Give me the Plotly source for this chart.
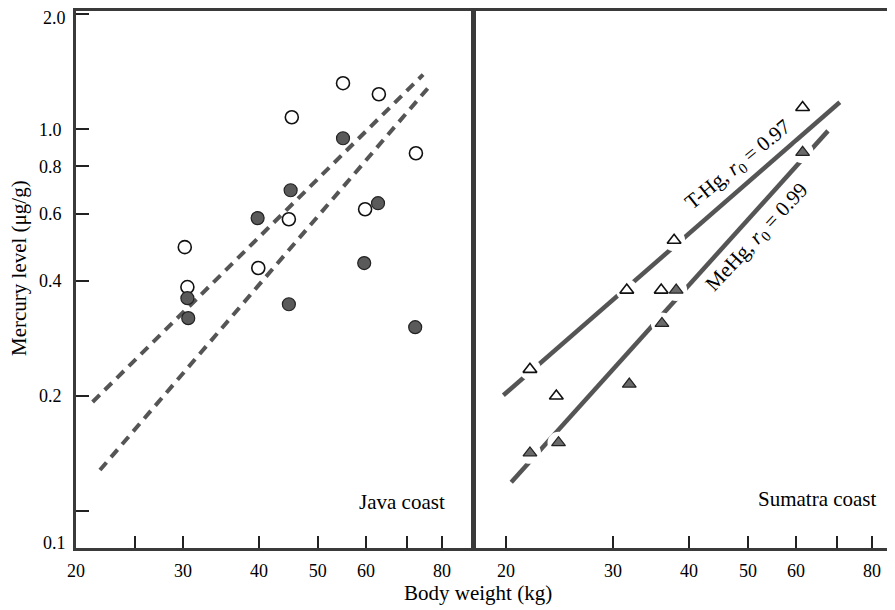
import math
import plotly.graph_objects as go

# ---------------- data ----------------
java_thg_x = [55.0, 63.0, 45.3, 72.5, 59.8, 44.8, 30.2, 39.9, 30.5]
java_thg_y = [1.32, 1.235, 1.075, 0.865, 0.617, 0.581, 0.491, 0.433, 0.386]
java_mehg_x = [55.0, 45.1, 39.8, 62.8, 59.6, 30.5, 30.6, 44.8, 72.3]
java_mehg_y = [0.947, 0.692, 0.585, 0.640, 0.446, 0.361, 0.320, 0.348, 0.303]
java_thg_fit_x = [21.3, 74.5]
java_thg_fit_y = [0.193, 1.39]
java_mehg_fit_x = [21.9, 77.1]
java_mehg_fit_y = [0.128, 1.32]

sum_thg_x = [61.5, 37.8, 31.6, 36.0, 21.9, 24.2]
sum_thg_y = [1.14, 0.512, 0.379, 0.379, 0.235, 0.200]
sum_mehg_x = [61.5, 38.1, 36.1, 31.9, 24.4, 21.9]
sum_mehg_y = [0.87, 0.379, 0.31, 0.215, 0.151, 0.142]
sum_thg_fit_x = [19.8, 70.8]
sum_thg_fit_y = [0.201, 1.177]
sum_mehg_fit_x = [20.4, 67.7]
sum_mehg_fit_y = [0.119, 0.99]

y_tickvals = [0.1, 0.2, 0.4, 0.6, 0.8, 1.0, 2.0]
y_ticktext = ["", "0.2", "0.4", "0.6", "0.8", "1.0", ""]
y_edge_labels = ["0.1", "2.0"]  # drawn at the frame's bottom and top edges
x1_tickvals = [20, 25, 30, 40, 50, 60, 70, 80]
x1_ticktext = ["20", "", "30", "40", "50", "60", "", "80"]
x2_tickvals = [20, 30, 40, 50, 60, 70, 80]
x2_ticktext = ["20", "30", "40", "50", "60", "", "80"]

FONT = "Liberation Serif"
# the page body adds an 8px margin, so the figure is drawn 8px smaller
OFF = 8
W, H = 895 - OFF, 610 - OFF
LINE_C = "#3a3a3a"
FIT_C = "#555555"


def px(xp):
    return (xp - OFF) / W


def py(yp):
    return 1 - (yp - OFF) / H


fig = go.Figure()

# ---- Java coast (left) ----
fig.add_trace(go.Scatter(x=java_thg_fit_x, y=java_thg_fit_y, mode="lines",
                         line=dict(color=FIT_C, width=4, dash="10px,7px"),
                         xaxis="x", yaxis="y", hoverinfo="skip"))
fig.add_trace(go.Scatter(x=java_mehg_fit_x, y=java_mehg_fit_y, mode="lines",
                         line=dict(color=FIT_C, width=4, dash="10px,7px"),
                         xaxis="x", yaxis="y", hoverinfo="skip"))
fig.add_trace(go.Scatter(x=java_thg_x, y=java_thg_y, mode="markers",
                         marker=dict(symbol="circle", size=13, color="white",
                                     line=dict(color="#111", width=1.6)),
                         xaxis="x", yaxis="y"))
fig.add_trace(go.Scatter(x=java_mehg_x, y=java_mehg_y, mode="markers",
                         marker=dict(symbol="circle", size=13, color="#5a5a5a",
                                     line=dict(color="#222", width=1.2)),
                         xaxis="x", yaxis="y"))

# ---- Sumatra coast (right) ----
fig.add_trace(go.Scatter(x=sum_thg_fit_x, y=sum_thg_fit_y, mode="lines",
                         line=dict(color=FIT_C, width=4.5),
                         xaxis="x2", yaxis="y2", hoverinfo="skip"))
fig.add_trace(go.Scatter(x=sum_mehg_fit_x, y=sum_mehg_fit_y, mode="lines",
                         line=dict(color=FIT_C, width=4.5),
                         xaxis="x2", yaxis="y2", hoverinfo="skip"))
# white halos that open small gaps in the fit lines around the points
fig.add_trace(go.Scatter(x=sum_thg_x + sum_mehg_x, y=sum_thg_y + sum_mehg_y,
                         mode="markers",
                         marker=dict(symbol="circle", size=22, color="white"),
                         xaxis="x2", yaxis="y2", hoverinfo="skip"))
fig.add_trace(go.Scatter(x=sum_thg_x, y=sum_thg_y, mode="markers",
                         marker=dict(symbol="triangle-up", size=12, color="white",
                                     line=dict(color="#111", width=1.6)),
                         xaxis="x2", yaxis="y2"))
fig.add_trace(go.Scatter(x=sum_mehg_x, y=sum_mehg_y, mode="markers",
                         marker=dict(symbol="triangle-up", size=12, color="#6a6a6a",
                                     line=dict(color="#222", width=1.2)),
                         xaxis="x2", yaxis="y2"))

ydom = [py(548), py(11)]
yrange = [math.log10(0.08), math.log10(2.04)]

common_x = dict(type="log", showline=True, linecolor=LINE_C, linewidth=3,
                mirror=True, ticks="inside", ticklen=12, tickwidth=2,
                tickcolor="#222", showgrid=False, zeroline=False,
                automargin=False, ticklabeloverflow="allow",
                tickfont=dict(family=FONT, size=18, color="black"),
                ticklabelstandoff=4)

fig.update_layout(
    width=W, height=H,
    margin=dict(l=0, r=0, t=0, b=0, autoexpand=False),
    paper_bgcolor="white", plot_bgcolor="white",
    showlegend=False,
    font=dict(family=FONT, color="black"),
    xaxis=dict(domain=[px(76), px(473)],
               range=[math.log10(20), math.log10(90)],
               tickvals=x1_tickvals, ticktext=x1_ticktext,
               anchor="y", **common_x),
    xaxis2=dict(domain=[px(474), 1.0],
                range=[1.2484, 1.2484 + (895 - 474) / 608.0],
                tickvals=x2_tickvals, ticktext=x2_ticktext,
                anchor="y2", **common_x),
    yaxis=dict(type="log", domain=ydom, range=yrange, anchor="x",
               showline=True, linecolor=LINE_C, linewidth=3, mirror=True,
               ticks="inside", ticklen=13, tickwidth=2, tickcolor="#222",
               tickvals=y_tickvals, ticktext=y_ticktext,
               tickfont=dict(family=FONT, size=18, color="black"),
               ticklabelstandoff=8, automargin=False,
               ticklabeloverflow="allow",
               showgrid=False, zeroline=False),
    yaxis2=dict(type="log", domain=ydom, range=yrange, anchor="x2",
                showline=True, linecolor=LINE_C, linewidth=3, mirror=False,
                ticks="", showticklabels=False, automargin=False,
                showgrid=False, zeroline=False),
)

ann = [
    dict(text=y_edge_labels[0], xref="paper", yref="paper", x=px(68),
         y=py(543), xanchor="right", yanchor="middle", showarrow=False,
         font=dict(family=FONT, size=18, color="black")),
    dict(text=y_edge_labels[1], xref="paper", yref="paper", x=px(68),
         y=1.0, xanchor="right", yanchor="top", showarrow=False,
         yshift=2,
         font=dict(family=FONT, size=18, color="black")),
    dict(text="Body weight (kg)", xref="paper", yref="paper", x=px(478),
         y=py(593), xanchor="center", yanchor="middle", showarrow=False,
         font=dict(family=FONT, size=21, color="black")),
    dict(text="Mercury level (μg/g)", xref="paper", yref="paper", x=px(19),
         y=py(268), xanchor="center", yanchor="middle", showarrow=False,
         textangle=-90, font=dict(family=FONT, size=21, color="black")),
    dict(text="Java coast", xref="paper", yref="paper", x=px(402),
         y=py(502), xanchor="center", yanchor="middle", showarrow=False,
         font=dict(family=FONT, size=21, color="black")),
    dict(text="Sumatra coast", xref="paper", yref="paper", x=px(817),
         y=py(499), xanchor="center", yanchor="middle", showarrow=False,
         font=dict(family=FONT, size=21, color="black")),
    dict(text="T-Hg, <i>r</i><sub>0</sub> = 0.97", xref="x2", yref="y2",
         x=math.log10(48.2), y=math.log10(0.805), xanchor="center",
         yanchor="middle", showarrow=False, textangle=-39,
         font=dict(family=FONT, size=21, color="black")),
    dict(text="MeHg, <i>r</i><sub>0</sub> = 0.99", xref="x2", yref="y2",
         x=math.log10(51.9), y=math.log10(0.521), xanchor="center",
         yanchor="middle", showarrow=False, textangle=-47,
         font=dict(family=FONT, size=21, color="black")),
]
fig.update_layout(annotations=ann)

fig.write_html("out.html")
